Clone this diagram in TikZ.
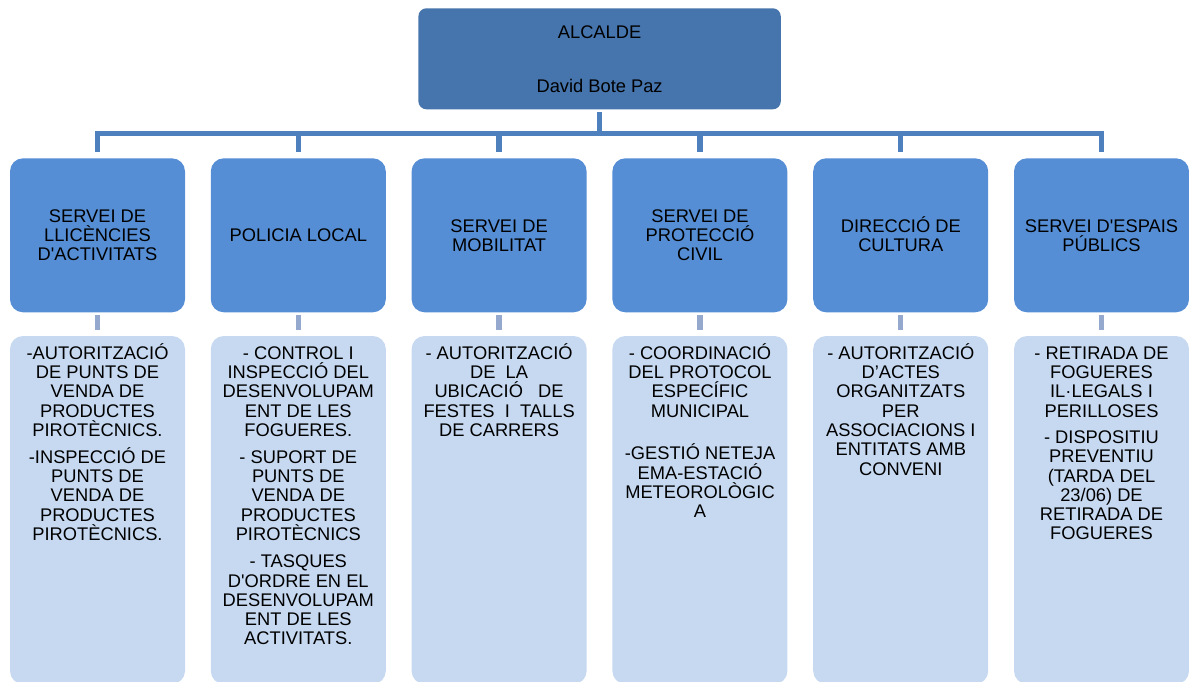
\documentclass[tikz,border=0pt]{standalone}
\usepackage{fontspec}
\setmainfont{Liberation Sans}[Ligatures=TeXOff]
\definecolor{topblue}{RGB}{70,116,172}
\definecolor{lineblue}{RGB}{78,128,189}
\definecolor{midblue}{RGB}{85,142,213}
\definecolor{lowblue}{RGB}{198,217,241}
\definecolor{lightline}{RGB}{149,169,206}
\newcommand{\tl}[1]{\parbox[t]{200pt}{\centering #1}}
\begin{document}
\begin{tikzpicture}[x=1pt,y=-1pt,
  topbox/.style={fill=topblue, rounded corners=8pt, minimum width=362.4pt, minimum height=101pt, inner sep=0pt},
  midbox/.style={fill=midblue, rounded corners=13pt, minimum width=175pt, minimum height=154pt, inner sep=0pt},
  lowbox/.style={fill=lowblue, rounded corners=13pt, minimum width=175pt, minimum height=348pt, inner sep=0pt},
  txt/.style={anchor=base, inner sep=0pt, font=\fontsize{18.3pt}{19.3pt}\selectfont},
  topline/.style={draw=lineblue, line width=5.5pt},
  lowline/.style={draw=lightline, line width=5.3pt}]
\path[use as bounding box] (0,0) rectangle (1189,682);
\begin{scope}
\clip (0,0) rectangle (1189,682);
\node[topbox] (top) at (599.6,58.8) {};
\node[txt] (toptxt1) at (599.6,38.2) {ALCALDE};
\node[txt] (toptxt2) at (599.6,92.5) {David Bote Paz};
\coordinate (bus) at (599.6,133.3);
\foreach \i in {1,...,6} {
  \pgfmathsetmacro\cx{97.5+200.8*(\i-1)}
  \node[midbox] (s\i) at (\cx,235.3) {};
  \node[lowbox] (d\i) at (\cx,510) {};
}
\draw[topline, shorten <=2.7pt] (top.south) -- (bus);
\draw[topline, line cap=rect] (s1.north |- bus) -- (s6.north |- bus);
\foreach \i in {1,...,6} {
  \draw[topline, shorten >=5.6pt] (s\i.north |- bus) -- (s\i.north);
  \draw[lowline, shorten <=2.7pt, shorten >=6pt] (s\i.south) -- (d\i.north);
}
% level 2 texts
\node[txt] (t1) at (97.5,222.2) {\tl{SERVEI DE\\LLICÈNCIES\\D'ACTIVITATS}};
\node[txt] (t2) at (298.3,241.2) {\tl{POLICIA LOCAL}};
\node[txt] (t3) at (499.1,232.5) {\tl{SERVEI DE\\MOBILITAT}};
\node[txt] (t4) at (700,222.2) {\tl{SERVEI DE\\PROTECCIÓ\\CIVIL}};
\node[txt] (t5) at (900.8,232.5) {\tl{DIRECCIÓ DE\\CULTURA}};
\node[txt] (t6) at (1101.5,232.5) {\tl{SERVEI D'ESPAIS\\PÚBLICS}};
% level 3 texts
\node[txt] (u1) at (97.5,359.2) {\tl{-AUTORITZACIÓ\\DE PUNTS DE\\VENDA DE\\PRODUCTES\\PIROTÈCNICS.\\[7.5pt]-INSPECCIÓ DE\\PUNTS DE\\VENDA DE\\PRODUCTES\\PIROTÈCNICS.}};
\node[txt] (u2) at (298.3,359.2) {\tl{- CONTROL I\\INSPECCIÓ DEL\\DESENVOLUPAM\\ENT DE LES\\FOGUERES.\\[7.5pt]- SUPORT DE\\PUNTS DE\\VENDA DE\\PRODUCTES\\PIROTÈCNICS\\[8pt]- TASQUES\\D'ORDRE EN EL\\DESENVOLUPAM\\ENT DE LES\\ACTIVITATS.}};
\node[txt] (u3) at (499.1,359.2) {\tl{- AUTORITZACIÓ\\DE\ \ LA\\UBICACIÓ\ \ \ DE\\FESTES\ \ I\ \ TALLS\\DE CARRERS}};
\node[txt] (u4) at (700,359.2) {\tl{- COORDINACIÓ\\DEL PROTOCOL\\ESPECÍFIC\\MUNICIPAL\\[23.3pt]-GESTIÓ NETEJA\\EMA-ESTACIÓ\\METEOROLÒGIC\\A}};
\node[txt] (u5) at (900.8,359.2) {\tl{- AUTORITZACIÓ\\D’ACTES\\ORGANITZATS\\PER\\ASSOCIACIONS I\\ENTITATS AMB\\CONVENI}};
\node[txt] (u6) at (1101.5,359.2) {\tl{- RETIRADA DE\\FOGUERES\\IL·LEGALS I\\PERILLOSES\\[7pt]- DISPOSITIU\\PREVENTIU\\(TARDA DEL\\23/06) DE\\RETIRADA DE\\FOGUERES}};
\end{scope}
\end{tikzpicture}
\end{document}
